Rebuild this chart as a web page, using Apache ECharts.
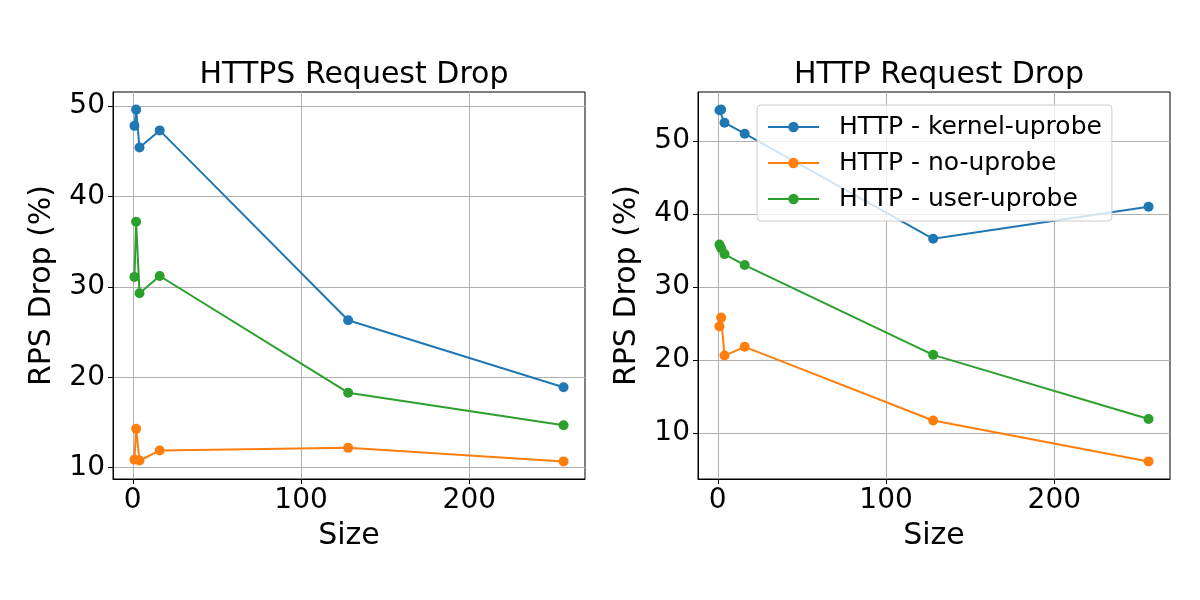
<!DOCTYPE html>
<html>
<head>
<meta charset="utf-8">
<script src="https://cdn.jsdelivr.net/npm/echarts@6/dist/echarts.min.js"></script>
<style>
  html, body { margin: 0; padding: 0; background: #fff; }
  #chart { width: 1200px; height: 600px; }
</style>
</head>
<body>
<div id="chart"></div>
<script>
// x values (message size)
const sizes = [1, 2, 4, 16, 128, 256]

// HTTPS panel
const httpsKernel = [47.8, 49.6, 45.4, 47.3, 26.3, 18.9]
const httpsNo = [10.9, 14.3, 10.8, 11.9, 12.2, 10.7]
const httpsUser = [31.1, 37.2, 29.3, 31.2, 18.3, 14.7]

// HTTP panel
const httpKernel = [54.2, 54.3, 52.5, 51.0, 36.6, 41.0]
const httpNo = [24.6, 25.8, 20.6, 21.8, 11.7, 6.1]
const httpUser = [35.8, 35.3, 34.5, 33.0, 20.7, 11.9]

const xTicks = [0, 100, 200]
const yTicks = [10, 20, 30, 40, 50]

const seriesNames = ['kernel-uprobe', 'no-uprobe', 'user-uprobe']
const colors = ['#1f77b4', '#ff7f0e', '#2ca02c']
const FONT = 'DejaVu Sans'

// matplotlib-style 5% padding around data
const padRange = (arrs) => {
  const all = [].concat(...arrs)
  const lo = Math.min(...all), hi = Math.max(...all)
  const m = (hi - lo) * 0.05
  return [lo - m, hi + m]
}
const xr = padRange([sizes])
const yrLeft = padRange([httpsKernel, httpsNo, httpsUser])
const yrRight = padRange([httpKernel, httpNo, httpUser])

const pairs = (ys) => sizes.map((x, i) => [x, ys[i]])

const makeX = (idx) => ({
  type: 'value',
  gridIndex: idx,
  min: xr[0],
  max: xr[1],
  name: 'Size',
  nameLocation: 'middle',
  nameGap: 42,
  nameTextStyle: { fontFamily: FONT, fontSize: 30, color: '#000' },
  axisLine: { show: true, onZero: false, lineStyle: { color: '#000', width: 1 } },
  axisTick: { show: true, length: 5, customValues: xTicks, lineStyle: { color: '#000' } },
  axisLabel: { customValues: xTicks, margin: 8, fontFamily: FONT, fontSize: 28, color: '#000' },
  splitLine: { show: true, lineStyle: { color: '#b0b0b0', width: 1 } }
})

const makeY = (idx, r) => ({
  type: 'value',
  gridIndex: idx,
  min: r[0],
  max: r[1],
  name: 'RPS Drop (%)',
  nameLocation: 'middle',
  nameGap: 56,
  nameRotate: 90,
  nameTextStyle: { fontFamily: FONT, fontSize: 30, color: '#000' },
  axisLine: { show: true, onZero: false, lineStyle: { color: '#000', width: 1 } },
  axisTick: { show: true, length: 5, customValues: yTicks, lineStyle: { color: '#000' } },
  axisLabel: { customValues: yTicks, margin: 8, fontFamily: FONT, fontSize: 28, color: '#000' },
  splitLine: { show: true, lineStyle: { color: '#b0b0b0', width: 1 } }
})

const makeSeries = (name, ys, color, idx) => ({
  name,
  type: 'line',
  xAxisIndex: idx,
  yAxisIndex: idx,
  data: pairs(ys),
  symbol: 'circle',
  symbolSize: 10,
  showSymbol: true,
  itemStyle: { color },
  lineStyle: { color, width: 2 },
  emphasis: { disabled: true },
  animation: false
})

const chart = echarts.init(document.getElementById('chart'))

const option = {
  backgroundColor: '#fff',
  animation: false,
  title: [
    {
      text: 'HTTPS Request Drop',
      left: 349, top: 55, textAlign: 'center',
      textStyle: { fontFamily: FONT, fontSize: 30, fontWeight: 'normal', color: '#000' }
    },
    {
      text: 'HTTP Request Drop',
      left: 934, top: 55, textAlign: 'center',
      textStyle: { fontFamily: FONT, fontSize: 30, fontWeight: 'normal', color: '#000' }
    }
  ],
  legend: {
    data: seriesNames.map(n => 'HTTP - ' + n),
    orient: 'vertical',
    left: 757,
    top: 105,
    padding: [8, 10, 8, 10],
    itemWidth: 51,
    itemHeight: 13,
    itemGap: 8,
    backgroundColor: 'rgba(255,255,255,0.8)',
    borderColor: '#cccccc',
    borderWidth: 1,
    borderRadius: 4,
    textStyle: { fontFamily: FONT, fontSize: 25, lineHeight: 28, color: '#000', padding: [0, 0, 0, 15] }
  },
  grid: [
    { left: 113, top: 92, width: 472, height: 387, show: true, borderColor: '#000', borderWidth: 1, backgroundColor: 'transparent' },
    { left: 698, top: 92, width: 472, height: 387, show: true, borderColor: '#000', borderWidth: 1, backgroundColor: 'transparent' }
  ],
  xAxis: [makeX(0), makeX(1)],
  yAxis: [makeY(0, yrLeft), makeY(1, yrRight)],
  series: [
    makeSeries('HTTPS - ' + seriesNames[0], httpsKernel, colors[0], 0),
    makeSeries('HTTPS - ' + seriesNames[1], httpsNo, colors[1], 0),
    makeSeries('HTTPS - ' + seriesNames[2], httpsUser, colors[2], 0),
    makeSeries('HTTP - ' + seriesNames[0], httpKernel, colors[0], 1),
    makeSeries('HTTP - ' + seriesNames[1], httpNo, colors[1], 1),
    makeSeries('HTTP - ' + seriesNames[2], httpUser, colors[2], 1)
  ]
}

chart.setOption(option)
</script>
</body>
</html>
